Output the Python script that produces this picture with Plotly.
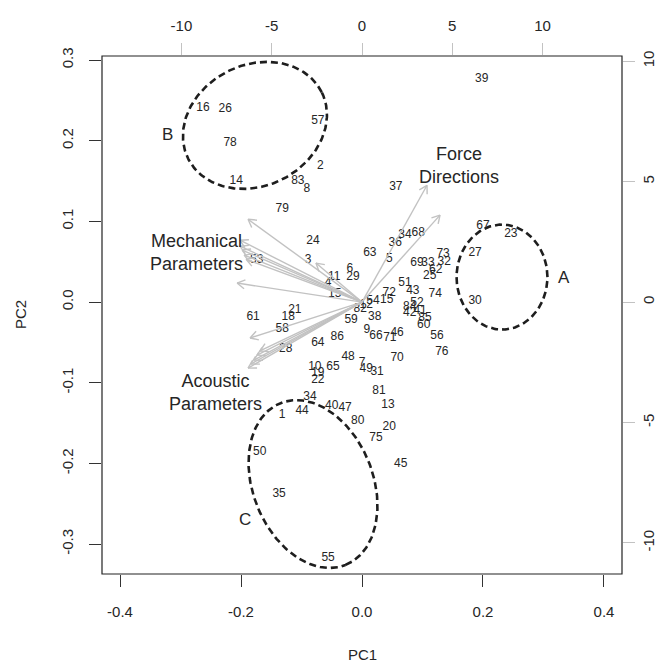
import math
import plotly.graph_objects as go

# ---------------- data ----------------
obs_labels = ["39", "37", "16", "26", "78", "57", "2", "14", "83", "8", "79", "24", "3", "63",
              "36", "34", "68", "5", "69", "33", "32", "73", "62", "25", "11", "6", "29", "4",
              "15", "51", "43", "74", "72", "15", "54", "82", "12", "38", "59", "9", "66", "71",
              "46", "64", "86", "48", "7", "49", "31", "70", "56", "76", "60", "84", "52", "42",
              "41", "85", "61", "58", "18", "21", "28", "53", "10", "65", "19", "22", "34", "1",
              "44", "40", "47", "80", "81", "13", "20", "75", "45", "50", "35", "55", "67", "23",
              "27", "30"]
pc1 = [0.198, 0.056, -0.263, -0.226, -0.218, -0.073, -0.069, -0.208, -0.106, -0.091, -0.132,
       -0.081, -0.089, 0.013, 0.055, 0.071, 0.093, 0.045, 0.091, 0.109, 0.136, 0.134, 0.122,
       0.112, -0.046, -0.020, -0.015, -0.056, -0.045, 0.071, 0.084, 0.121, 0.045, 0.041, 0.018,
       -0.003, 0.007, 0.021, -0.018, 0.008, 0.023, 0.046, 0.058, -0.073, -0.041, -0.023, 0.000,
       0.007, 0.025, 0.058, 0.124, 0.132, 0.102, 0.079, 0.091, 0.079, 0.096, 0.104, -0.180,
       -0.132, -0.122, -0.111, -0.126, -0.174, -0.078, -0.048, -0.073, -0.073, -0.086, -0.132,
       -0.099, -0.050, -0.028, -0.007, 0.028, 0.043, 0.045, 0.023, 0.064, -0.169, -0.137,
       -0.056, 0.200, 0.246, 0.187, 0.187]
pc2 = [0.276, 0.143, 0.240, 0.239, 0.197, 0.224, 0.169, 0.150, 0.150, 0.140, 0.116, 0.076,
       0.052, 0.061, 0.073, 0.083, 0.086, 0.053, 0.048, 0.048, 0.050, 0.059, 0.040, 0.032,
       0.031, 0.041, 0.031, 0.024, 0.010, 0.024, 0.014, 0.010, 0.011, 0.002, 0.001, -0.009,
       -0.004, -0.019, -0.022, -0.035, -0.042, -0.045, -0.038, -0.051, -0.043, -0.068, -0.076,
       -0.083, -0.087, -0.069, -0.042, -0.062, -0.029, -0.006, -0.001, -0.014, -0.011, -0.020,
       -0.019, -0.033, -0.019, -0.010, -0.058, 0.052, -0.081, -0.081, -0.088, -0.097, -0.118,
       -0.140, -0.135, -0.129, -0.131, -0.147, -0.110, -0.128, -0.155, -0.169, -0.201, -0.186,
       -0.238, -0.317, 0.094, 0.084, 0.061, 0.001]

# variable loadings (top / right axes)
load_u = [-6.31, -6.76, -6.76, -6.64, -6.53, -6.42, -6.92, -2.55,
          -6.20, -6.31, -6.15, -5.98, -5.81, -5.65, 3.60, 4.32]
load_v = [3.44, 2.57, 2.32, 2.16, 1.95, 1.78, 0.79, 1.62,
          -1.49, -2.74, -2.57, -2.41, -2.20, -2.03, 4.85, 3.61]

var_names = ["Force<br>Directions", "Mechanical<br>Parameters", "Acoustic<br>Parameters"]
var_x = [0.160, -0.273, -0.243]
var_y = [0.169, 0.062, -0.112]

group_names = ["A", "B", "C"]
group_x = [0.334, -0.322, -0.193]
group_y = [0.030, 0.208, -0.270]

# ellipse: centre (PC units), semi-axes (px), rotation (deg)
ell_cx = [0.2314, -0.177, -0.081]
ell_cy = [0.031, 0.219, -0.2255]
ell_a = [45.5, 74.6, 87.2]
ell_b = [52.5, 60.5, 60.0]
ell_ang = [0.0, 26.4, -68.1]

x_ticks = [-0.4, -0.2, 0.0, 0.2, 0.4]
x_ticktext = ["-0.4", "-0.2", "0.0", "0.2", "0.4"]
y_ticks = [-0.3, -0.2, -0.1, 0.0, 0.1, 0.2, 0.3]
y_ticktext = ["-0.3", "-0.2", "-0.1", "0.0", "0.1", "0.2", "0.3"]
sec_ticks = [-10, -5, 0, 5, 10]
sec_ticktext = ["-10", "-5", "0", "5", "10"]

# ---------------- layout geometry ----------------
# (page body has an 8px margin, so the figure is sized to fit inside it)
W, H = 651, 655
ML, MR, MT, MB = 94, 37, 48, 89
PW, PH = W - ML - MR, H - MT - MB
xr = [-0.4298, 0.4298]
yr = [-0.337, 0.305]
ratio = 33.5
x2r = [v * ratio for v in xr]
y2r = [v * ratio for v in yr]
sx = PW / (xr[1] - xr[0])
sy = PH / (yr[1] - yr[0])
sx2 = PW / (x2r[1] - x2r[0])
sy2 = PH / (y2r[1] - y2r[0])

FONT = "Liberation Sans, Arial, Helvetica, sans-serif"
TXT = "#262626"
ARROW = "#c2c2c2"

fig = go.Figure()

# ellipses
for cx, cy, a, b, ang in zip(ell_cx, ell_cy, ell_a, ell_b, ell_ang):
    ph = math.radians(ang)
    ex, ey = [], []
    for i in range(241):
        t = 2 * math.pi * i / 240
        dx = a * math.cos(t) * math.cos(ph) - b * math.sin(t) * math.sin(ph)
        dy = a * math.cos(t) * math.sin(ph) + b * math.sin(t) * math.cos(ph)
        ex.append(cx + dx / sx)
        ey.append(cy + dy / sy)
    fig.add_trace(go.Scatter(x=ex, y=ey, mode="lines", xaxis="x", yaxis="y",
                             line=dict(color="#1e1e1e", width=2.6, dash="7px,4px"),
                             hoverinfo="skip", showlegend=False))

# observation labels
fig.add_trace(go.Scatter(x=pc1, y=pc2, text=obs_labels, mode="text", xaxis="x", yaxis="y",
                         textfont=dict(family=FONT, size=12, color=TXT),
                         textposition="middle center", showlegend=False))

# arrows on secondary axes
ax_, ay_ = [], []
HL = 9.0
for u, v in zip(load_u, load_v):
    px, py = u * sx2, v * sy2
    th = math.atan2(py, px)
    ax_ += [0, u, None]
    ay_ += [0, v, None]
    for s in (1, -1):
        hx = px - HL * math.cos(th + s * math.radians(30))
        hy = py - HL * math.sin(th + s * math.radians(30))
        ax_ += [hx / sx2, u, None]
        ay_ += [hy / sy2, v, None]
fig.add_trace(go.Scatter(x=ax_, y=ay_, mode="lines", xaxis="x2", yaxis="y2",
                         line=dict(color=ARROW, width=1.4), hoverinfo="skip",
                         showlegend=False))

# variable labels and group letters as annotations (on top)
for nm, x, y in zip(var_names, var_x, var_y):
    fig.add_annotation(x=x, y=y, xref="x", yref="y", text=nm, showarrow=False,
                       font=dict(family=FONT, size=18, color=TXT), align="center")
for nm, x, y in zip(group_names, group_x, group_y):
    fig.add_annotation(x=x, y=y, xref="x", yref="y", text=nm, showarrow=False,
                       font=dict(family=FONT, size=17, color=TXT))

# axis titles
fig.add_annotation(x=0.5, y=-(646 - (H - MB)) / PH,
                   xref="paper", yref="paper", text="PC1", showarrow=False,
                   font=dict(family=FONT, size=15, color=TXT), yanchor="middle")
fig.add_annotation(x=-(ML - 12) / PW, y=0.5, xref="paper", yref="paper", text="PC2",
                   textangle=-90, showarrow=False, xanchor="center",
                   font=dict(family=FONT, size=15, color=TXT))

# frame
fig.add_shape(type="rect", xref="paper", yref="paper", x0=0, y0=0, x1=1, y1=1,
              line=dict(color="#222222", width=1.2))

tickfont = dict(family=FONT, size=15, color=TXT)
common = dict(showgrid=False, zeroline=False, showline=False, ticks="outside",
              ticklen=12, tickfont=tickfont, automargin=False)
fig.update_layout(
    width=W, height=H, margin=dict(l=ML, r=MR, t=MT, b=MB, autoexpand=False),
    paper_bgcolor="white", plot_bgcolor="white",
    xaxis=dict(range=xr, tickvals=x_ticks, ticktext=x_ticktext, tickcolor="#333333",
               ticklabelstandoff=12, **common),
    yaxis=dict(range=yr, tickvals=y_ticks, ticktext=y_ticktext, tickcolor="#333333",
               tickangle=-90, ticklabelstandoff=10, **common),
    xaxis2=dict(range=x2r, tickvals=sec_ticks, ticktext=sec_ticktext, overlaying="x",
                side="top", anchor="y", tickcolor=ARROW, ticklabelstandoff=6, **common),
    yaxis2=dict(range=y2r, tickvals=sec_ticks, ticktext=sec_ticktext, overlaying="y",
                side="right", anchor="x", tickcolor=ARROW, tickangle=-90,
                ticklabelstandoff=1, **common),
    showlegend=False,
)

fig.write_html("out.html")
